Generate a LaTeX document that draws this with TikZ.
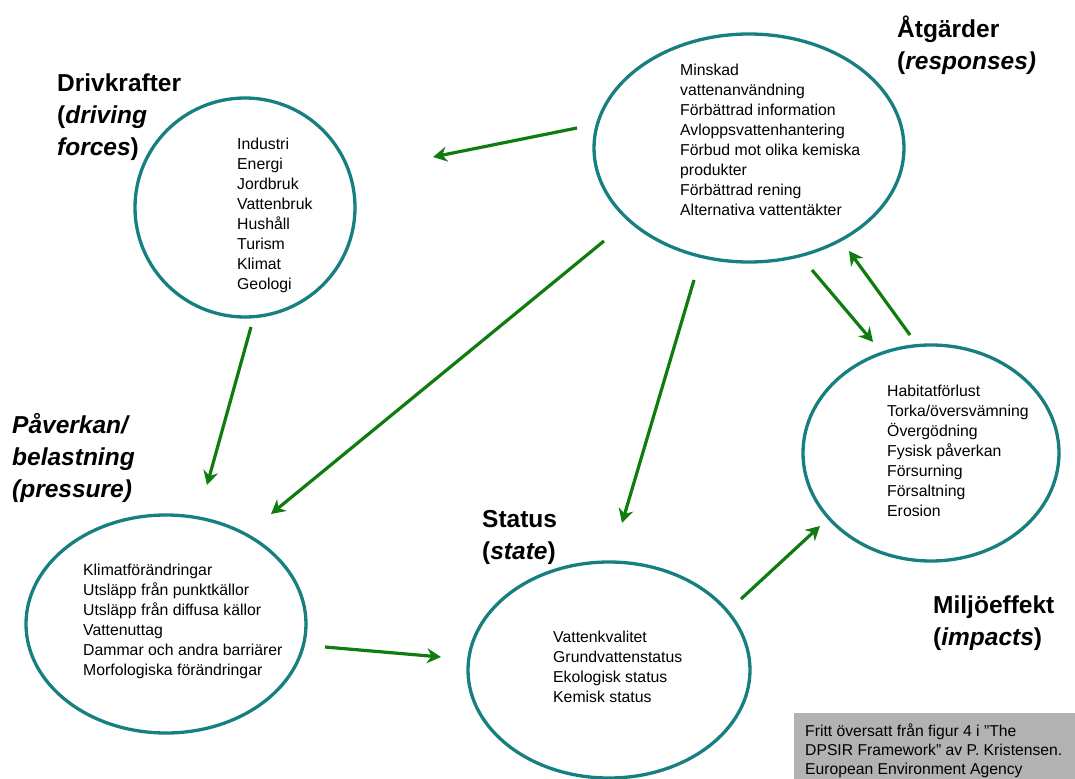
\documentclass[tikz,border=0pt]{standalone}
\usepackage{fontspec}
\setmainfont{Liberation Sans}
\usetikzlibrary{shapes.geometric,arrows.meta}
\definecolor{tealring}{RGB}{23,127,127}
\definecolor{arrgreen}{RGB}{16,124,16}
\definecolor{notegray}{RGB}{178,178,178}
\begin{document}
\begin{tikzpicture}[x=1bp,y=-1bp,
  ell/.style={draw=tealring, line width=3.3bp, ellipse, inner sep=0pt},
  arr/.style={draw=arrgreen, line width=3.2bp, -{Stealth[length=14bp,width=15bp,inset=4.5bp]}},
  body/.style={font=\fontsize{15.8bp}{20bp}\selectfont, align=left, anchor=west, inner sep=0pt},
  ttl/.style={font=\fontsize{24.5bp}{32bp}\selectfont\bfseries, align=left, anchor=west, inner sep=0pt}]
\useasboundingbox (0,0) rectangle (1075,779);

% ellipses
\node[ell, minimum width=220bp, minimum height=219bp] (D) at (245,207.5) {};
\node[ell, minimum width=310bp, minimum height=228bp] (R) at (749,148) {};
\node[ell, minimum width=256bp, minimum height=216bp] (I) at (931,453) {};
\node[ell, minimum width=280bp, minimum height=218bp] (P) at (166,624) {};
\node[ell, minimum width=282bp, minimum height=216bp] (S) at (609,670) {};

% texts inside
\node[body] (Dtxt) at (237,215.5) {Industri\\Energi\\Jordbruk\\Vattenbruk\\Hushåll\\Turism\\Klimat\\Geologi};
\node[body] (Rtxt) at (680,139.5) {Minskad\\vattenanvändning\\Förbättrad information\\Avloppsvattenhantering\\Förbud mot olika kemiska\\produkter\\Förbättrad rening\\Alternativa vattentäkter};
\node[body] (Itxt) at (887,451) {Habitatförlust\\Torka/översvämning\\Övergödning\\Fysisk påverkan\\Försurning\\Försaltning\\Erosion};
\node[body] (Ptxt) at (83,621.5) {Klimatförändringar\\Utsläpp från punktkällor\\Utsläpp från diffusa källor\\Vattenuttag\\Dammar och andra barriärer\\Morfologiska förändringar};
\node[body] (Stxt) at (553,667) {Vattenkvalitet\\Grundvattenstatus\\Ekologisk status\\Kemisk status};

% titles
\node[ttl] (Dttl) at (57,117) {Drivkrafter\\(\textit{driving}\\\textit{forces})};
\node[ttl] (Rttl) at (897,45) {Åtgärder\\(\textit{responses)}};
\node[ttl] (Pttl) at (12,458) {\textit{Påverkan/}\\\textit{belastning}\\\textit{(pressure)}};
\node[ttl] (Sttl) at (482,537) {Status\\(\textit{state})};
\node[ttl] (Ittl) at (933,623) {Miljöeffekt\\(\textit{impacts})};

% arrow end points
\coordinate (a1s) at (577,128);  \coordinate (a1e) at (433,157);
\coordinate (a2s) at (251,327);  \coordinate (a2e) at (207,485);
\coordinate (a3s) at (604,241);  \coordinate (a3e) at (271,514);
\coordinate (a4s) at (694,280);  \coordinate (a4e) at (622,523);
\coordinate (a5s) at (812,270);  \coordinate (a5e) at (873,342);
\coordinate (a6s) at (910,335);  \coordinate (a6e) at (849,251);
\coordinate (a7s) at (325,647);  \coordinate (a7e) at (441,657);
\coordinate (a8s) at (741,599);  \coordinate (a8e) at (820,526);

\draw[arr] (a1s) -- (a1e);
\draw[arr] (a2s) -- (a2e);
\draw[arr] (a3s) -- (a3e);
\draw[arr] (a4s) -- (a4e);
\draw[arr] (a5s) -- (a5e);
\draw[arr] (a6s) -- (a6e);
\draw[arr] (a7s) -- (a7e);
\draw[arr] (a8s) -- (a8e);

% source note
\fill[notegray] (794,713) rectangle (1075,779);
\node[font=\fontsize{15.7bp}{19bp}\selectfont, align=left, anchor=west, inner sep=0pt] (note) at (805,751)
  {Fritt översatt från figur 4 i ”The\\DPSIR Framework” av P. Kristensen.\\European Environment Agency};
\end{tikzpicture}
\end{document}
